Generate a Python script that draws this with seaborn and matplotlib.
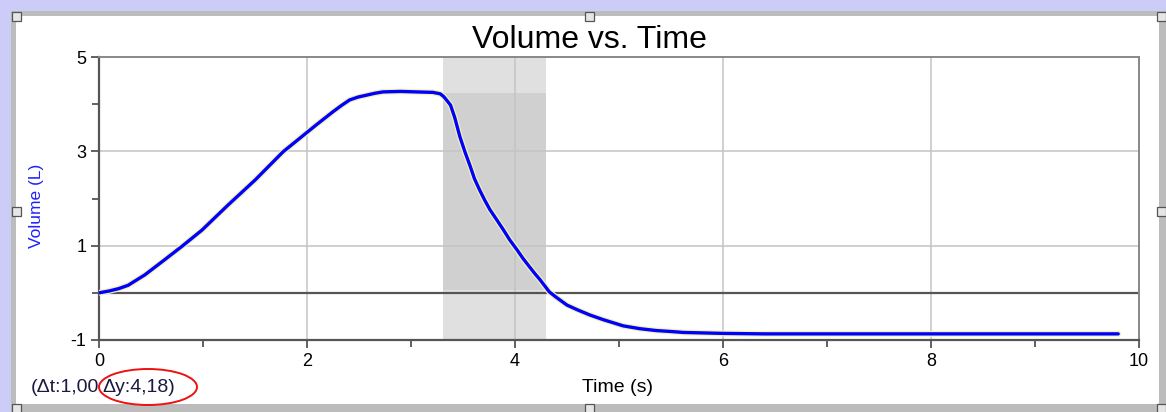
import numpy as np
import pandas as pd
import matplotlib
matplotlib.use("Agg")
import matplotlib.pyplot as plt
import matplotlib.patheffects as pe
from matplotlib.patches import Rectangle, Ellipse
import seaborn as sns

# ---- data ----
time_s = [0.00, 0.10, 0.19, 0.28, 0.44, 0.63, 0.80, 0.99, 1.24, 1.50, 1.77, 2.01,
          2.10, 2.25, 2.33, 2.41, 2.49, 2.57, 2.65, 2.73, 2.90, 3.05, 3.21, 3.28,
          3.31, 3.33, 3.38, 3.42, 3.47, 3.52, 3.57, 3.61, 3.66, 3.71, 3.76, 3.83,
          3.89, 3.95, 4.02, 4.08, 4.14, 4.19, 4.24, 4.33, 4.40, 4.50, 4.60, 4.72,
          4.85, 5.04, 5.20, 5.36, 5.50, 5.62, 6.00, 6.39, 7.00, 8.00, 9.00, 9.80]
volume_L = [0.00, 0.04, 0.09, 0.16, 0.38, 0.70, 0.99, 1.33, 1.86, 2.39, 2.99, 3.42,
            3.58, 3.84, 3.97, 4.09, 4.15, 4.19, 4.23, 4.26, 4.27, 4.26, 4.25, 4.22,
            4.17, 4.12, 3.98, 3.72, 3.31, 2.98, 2.68, 2.42, 2.18, 1.96, 1.76, 1.53,
            1.33, 1.12, 0.91, 0.72, 0.55, 0.41, 0.28, 0.02, -0.10, -0.26, -0.36, -0.47,
            -0.57, -0.70, -0.76, -0.80, -0.82, -0.84, -0.86, -0.87, -0.87, -0.87, -0.87, -0.87]
sel_t = [3.31, 4.30]          # selected time range
sel_v = [0.06, 4.24]          # delta-y box
x_ticks = [0, 2, 4, 6, 8, 10]
x_minor = [1, 3, 5, 7, 9]
y_ticks = [-1, 1, 3, 5]
y_minor = [0, 2, 4]
title = "Volume vs. Time"
x_label = "Time (s)"
y_label = "Volume (L)"
delta_text_a = "(\u0394t:1,00"
delta_text_b = "\u0394y:4,18)"

df = pd.DataFrame({"Time": time_s, "Volume": volume_L})

sns.set_style("white")
plt.rcParams["font.family"] = ["Liberation Sans", "DejaVu Sans"]

W, H = 1166, 412
fig = plt.figure(figsize=(W / 100, H / 100), dpi=100, facecolor="#ccccf8")

def fx(px):
    return px / W

def fy(py):
    return 1 - py / H

# frame: gray border and white panel
fig.patches.append(Rectangle((fx(11), 0), 1 - fx(11), fy(11),
                             transform=fig.transFigure, facecolor="#bcbcbc", edgecolor="none", zorder=-2))
fig.patches.append(Rectangle((fx(16), fy(404)), fx(1159 - 16), fy(16) - fy(404),
                             transform=fig.transFigure, facecolor="white", edgecolor="none", zorder=-1))

ax = fig.add_axes([fx(99), fy(340), fx(1139 - 99), fy(57) - fy(340)])
ax.set_facecolor("none")
ax.set_zorder(1)

# selection shading
ax.axvspan(sel_t[0], sel_t[1], color="#e0e0e0", zorder=0.5, lw=0)
ax.fill_between(sel_t, sel_v[0], sel_v[1], color="#d0d0d0", zorder=0.6, lw=0)

# grid
for xv in x_ticks[1:-1]:
    ax.axvline(xv, color="#c4c4c4", lw=1.1, zorder=0.8)
for yv in [1, 3]:
    ax.axhline(yv, color="#c4c4c4", lw=1.1, zorder=0.8)
ax.axhline(0, color="#555555", lw=1.6, zorder=0.9)

sns.lineplot(data=df, x="Time", y="Volume", ax=ax, color="#0000ff", lw=2.4, zorder=3,
             solid_joinstyle="round",
             path_effects=[pe.Stroke(linewidth=4.2, foreground="#f4f0b4"), pe.Normal()])

ax.set_xlim(0, 10)
ax.set_ylim(-1, 5)
ax.set_xticks(x_ticks)
ax.set_xticks(x_minor, minor=True)
ax.set_yticks(y_ticks)
ax.set_yticks(y_minor, minor=True)
ax.set_xticklabels([str(v) for v in x_ticks])
ax.set_yticklabels([str(v) for v in y_ticks])
ax.tick_params(axis="both", which="both", bottom=True, left=True, top=False, right=False)
ax.tick_params(axis="both", which="major", direction="out", length=6, width=1.3,
               color="#555555", labelsize=13, labelcolor="black", pad=3)
ax.tick_params(axis="both", which="minor", direction="out", length=5, width=1.3, color="#555555")
ax.set_xlabel("")
ax.set_ylabel("")
for side in ["left", "bottom"]:
    ax.spines[side].set_color("#555555")
    ax.spines[side].set_linewidth(1.6)
for side in ["top", "right"]:
    ax.spines[side].set_visible(True)
    ax.spines[side].set_color("#888888")
    ax.spines[side].set_linewidth(1.4)

fig.text(fx(589), fy(40), title, ha="center", va="center", fontsize=23, color="black")
fig.text(fx(618), fy(387), x_label, ha="center", va="center", fontsize=14, color="black")
fig.text(fx(36), fy(206), y_label, ha="center", va="center", fontsize=12.5, color="#2020ff",
         rotation=90)
fig.text(fx(99), fy(387), delta_text_a, ha="right", va="center", fontsize=14, color="#1a1a40")
fig.text(fx(102), fy(387), delta_text_b, ha="left", va="center", fontsize=14, color="#1a1a40")
fig.patches.append(Ellipse((fx(148), fy(387)), fx(98), fy(369) - fy(405), transform=fig.transFigure,
                           facecolor="none", edgecolor="#ee1111", lw=1.4, zorder=5))

# selection handles
for (hx, hy) in [(16, 16), (589, 16), (1161, 16), (16, 211), (1161, 211),
                 (16, 408), (589, 408), (1161, 408)]:
    fig.patches.append(Rectangle((fx(hx - 4.5), fy(hy + 4.5)), fx(9), fy(0) - fy(9),
                                 transform=fig.transFigure, facecolor="#e6e6e6",
                                 edgecolor="#555555", lw=0.9, zorder=6))

fig.savefig("out.png", dpi=100, facecolor=fig.get_facecolor())
